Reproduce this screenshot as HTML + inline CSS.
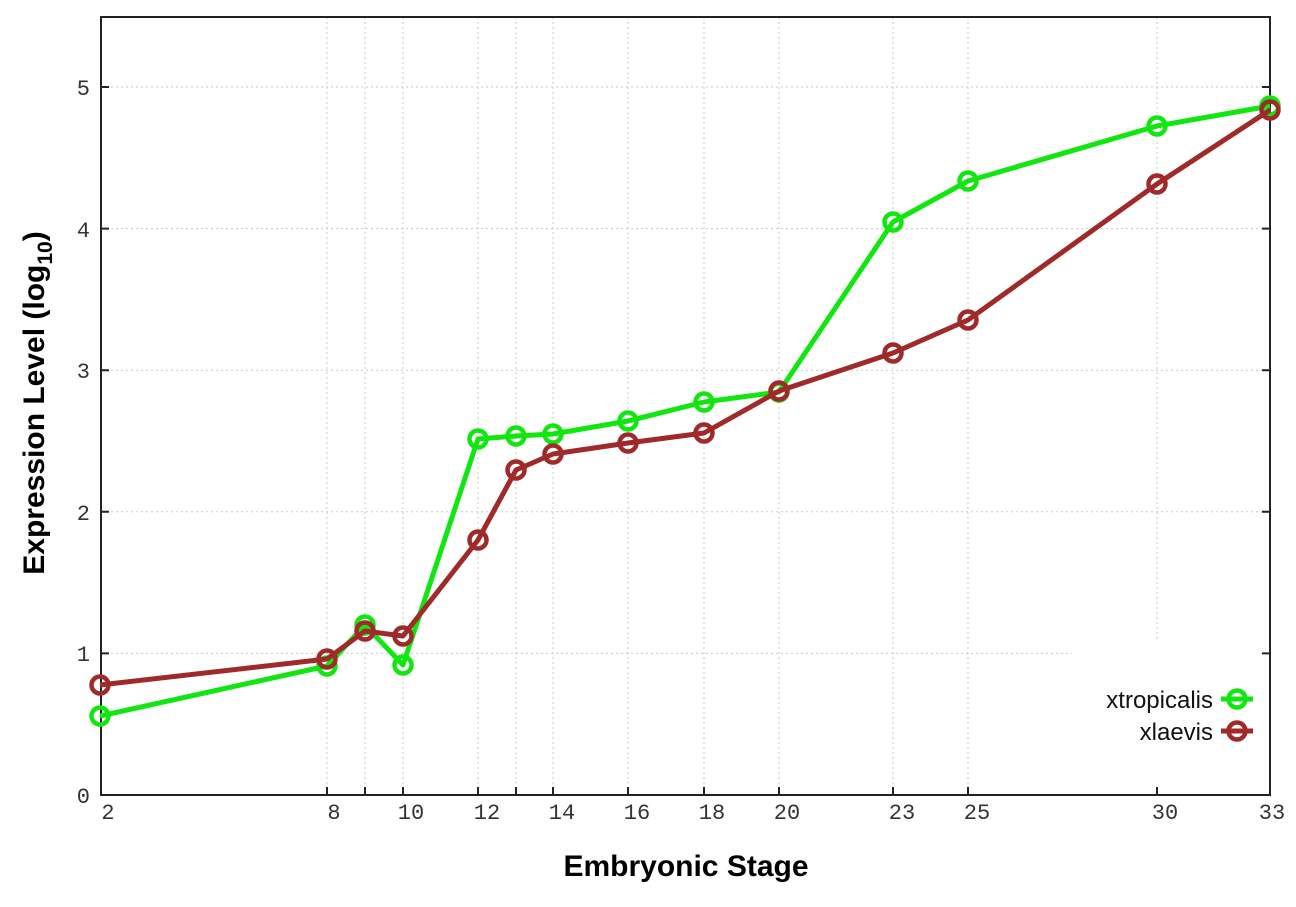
<!DOCTYPE html>
<html><head><meta charset="utf-8"><style>body{margin:0;background:#fff}svg{display:block}</style></head>
<body>
<svg width="1296" height="907" viewBox="0 0 1296 907" xmlns="http://www.w3.org/2000/svg">
<rect width="1296" height="907" fill="#fff"/>
<g stroke="#c8c8c8" stroke-width="1" stroke-dasharray="2,3">
<line x1="101" x2="1270" y1="653.4" y2="653.4"/>
<line x1="101" x2="1270" y1="511.8" y2="511.8"/>
<line x1="101" x2="1270" y1="370.2" y2="370.2"/>
<line x1="101" x2="1270" y1="228.6" y2="228.6"/>
<line x1="101" x2="1270" y1="87" y2="87"/>
<line x1="327" x2="327" y1="17" y2="795"/>
<line x1="365" x2="365" y1="17" y2="795"/>
<line x1="403" x2="403" y1="17" y2="795"/>
<line x1="478" x2="478" y1="17" y2="795"/>
<line x1="516" x2="516" y1="17" y2="795"/>
<line x1="553" x2="553" y1="17" y2="795"/>
<line x1="628" x2="628" y1="17" y2="795"/>
<line x1="704" x2="704" y1="17" y2="795"/>
<line x1="779" x2="779" y1="17" y2="795"/>
<line x1="893" x2="893" y1="17" y2="795"/>
<line x1="968" x2="968" y1="17" y2="795"/>
<line x1="1157" x2="1157" y1="17" y2="795"/>
</g>
<rect x="1072" y="642" width="197" height="152" fill="#fff"/>
<rect x="101" y="17" width="1169" height="778" fill="none" stroke="#222" stroke-width="2"/>
<g stroke="#222" stroke-width="2">
<path d="M101 653.4h8M101 511.8h8M101 370.2h8M101 228.6h8M101 87h8M1270 653.4h-8M1270 511.8h-8M1270 370.2h-8M1270 228.6h-8M1270 87h-8"/>
<path d="M327 795v-8M365 795v-8M403 795v-8M478 795v-8M516 795v-8M553 795v-8M628 795v-8M704 795v-8M779 795v-8M893 795v-8M968 795v-8M1157 795v-8"/>
</g>
<g font-family="Liberation Mono, monospace" font-size="22" fill="#333">
<g text-anchor="end">
<text x="90" y="803">0</text><text x="90" y="661">1</text><text x="90" y="520">2</text><text x="90" y="378">3</text><text x="90" y="237">4</text><text x="90" y="95">5</text>
</g>
<g text-anchor="middle">
<text x="108" y="819">2</text><text x="334" y="819">8</text><text x="411" y="819">10</text><text x="487" y="819">12</text><text x="562" y="819">14</text><text x="637" y="819">16</text><text x="712" y="819">18</text><text x="787" y="819">20</text><text x="902" y="819">23</text><text x="977" y="819">25</text><text x="1165" y="819">30</text><text x="1272" y="819">33</text>
</g>
</g>
<text x="686" y="876" text-anchor="middle" font-family="Liberation Sans, sans-serif" font-weight="bold" font-size="30">Embryonic Stage</text>
<text transform="translate(44,403) rotate(-90)" text-anchor="middle" font-family="Liberation Sans, sans-serif" font-weight="bold" font-size="30">Expression Level (log<tspan font-size="21" dy="8">10</tspan><tspan dy="-8">)</tspan></text>
<g fill="none" stroke="#11e611" stroke-width="5" stroke-linejoin="round">
<polyline points="100,716 327,666 365,625 403,665 478,439 516,436 553,434 628,421 704,402 779,392 893,222 968,181 1157,126 1270,106"/>
<g stroke-width="4.5">
<circle cx="100" cy="716" r="8.5"/><circle cx="327" cy="666" r="8.5"/><circle cx="365" cy="625" r="8.5"/><circle cx="403" cy="665" r="8.5"/><circle cx="478" cy="439" r="8.5"/><circle cx="516" cy="436" r="8.5"/><circle cx="553" cy="434" r="8.5"/><circle cx="628" cy="421" r="8.5"/><circle cx="704" cy="402" r="8.5"/><circle cx="779" cy="392" r="8.5"/><circle cx="893" cy="222" r="8.5"/><circle cx="968" cy="181" r="8.5"/><circle cx="1157" cy="126" r="8.5"/><circle cx="1270" cy="106" r="8.5"/>
<circle cx="1237" cy="699" r="8.5"/>
</g>
<line x1="1221" x2="1253" y1="699" y2="699"/>
</g>
<g fill="none" stroke="#a02a2a" stroke-width="5" stroke-linejoin="round">
<polyline points="100,685 327,659 365,631 403,636 478,540 516,470 553,454 628,443 704,433 779,391 893,353 968,320 1157,184 1270,110"/>
<g stroke-width="4.5">
<circle cx="100" cy="685" r="8.5"/><circle cx="327" cy="659" r="8.5"/><circle cx="365" cy="631" r="8.5"/><circle cx="403" cy="636" r="8.5"/><circle cx="478" cy="540" r="8.5"/><circle cx="516" cy="470" r="8.5"/><circle cx="553" cy="454" r="8.5"/><circle cx="628" cy="443" r="8.5"/><circle cx="704" cy="433" r="8.5"/><circle cx="779" cy="391" r="8.5"/><circle cx="893" cy="353" r="8.5"/><circle cx="968" cy="320" r="8.5"/><circle cx="1157" cy="184" r="8.5"/><circle cx="1270" cy="110" r="8.5"/>
<circle cx="1237" cy="731" r="8.5"/>
</g>
<line x1="1221" x2="1253" y1="731" y2="731"/>
</g>
<g font-family="Liberation Sans, sans-serif" font-size="24" fill="#111" text-anchor="end">
<text x="1213" y="708">xtropicalis</text>
<text x="1213" y="740">xlaevis</text>
</g>
</svg>
</body></html>
